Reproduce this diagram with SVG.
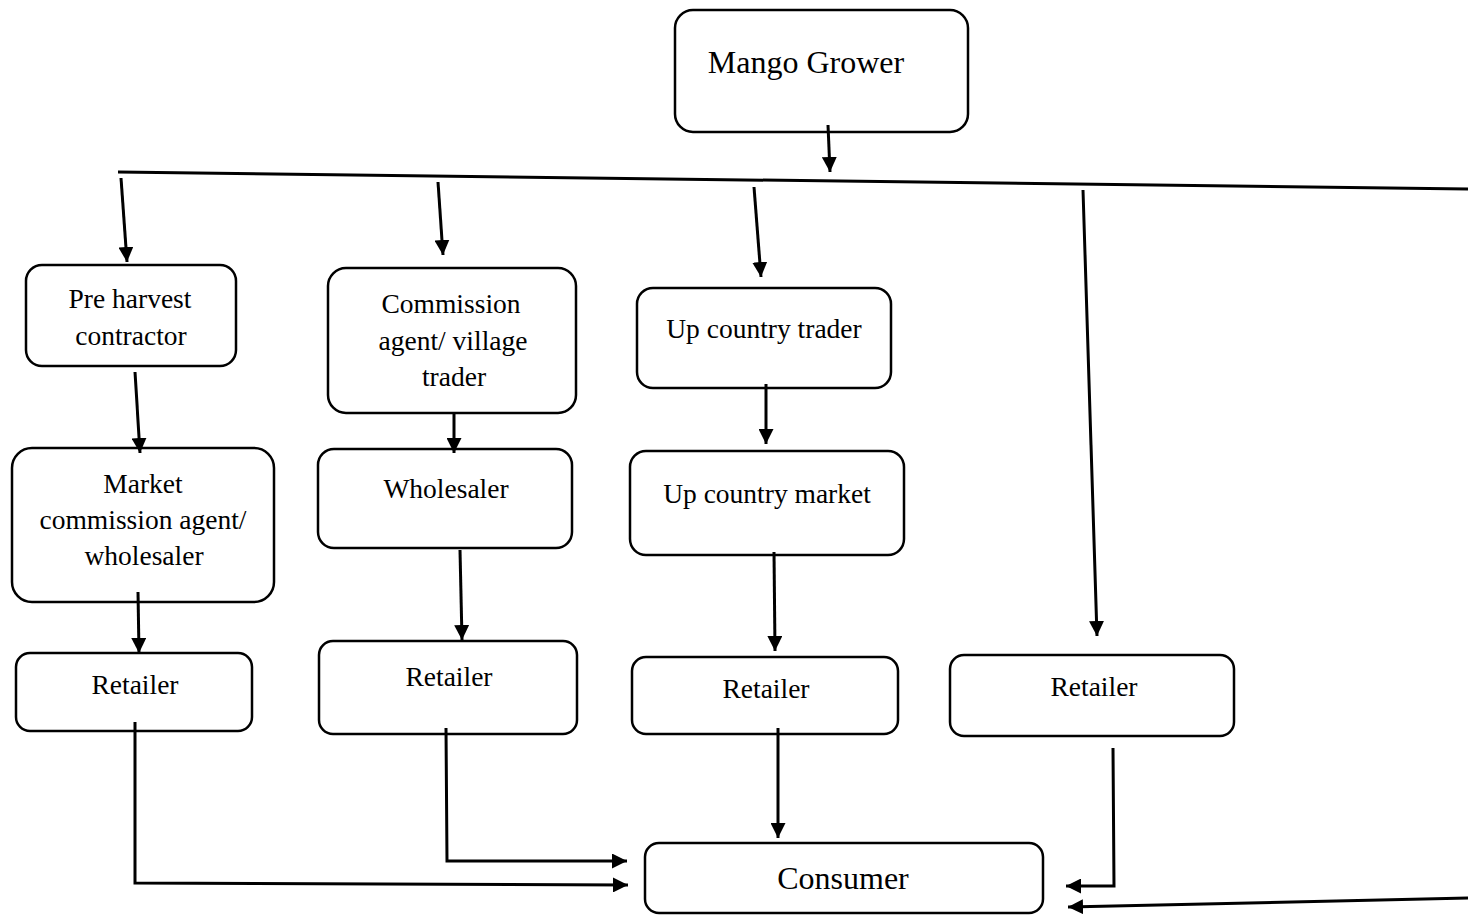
<svg xmlns="http://www.w3.org/2000/svg" width="1468" height="915" viewBox="0 0 1468 915">
<style>
.box{fill:#fff;stroke:#000;stroke-width:2.5}
.t{font-family:"Liberation Serif","Times New Roman",serif;font-size:27.5px;fill:#000;text-anchor:middle}
.big{font-size:32px}
.c{fill:none;stroke:#000;stroke-width:3}
</style>
<defs>
<marker id="ah" viewBox="0 0 10 10" refX="10" refY="5" markerWidth="5" markerHeight="5" markerUnits="strokeWidth" orient="auto">
<path d="M0,0 L10,5 L0,10 z" fill="#000"/>
</marker>
</defs>
<rect width="1468" height="915" fill="#fff"/>
<g id="mango-grower"><rect class="box" x="675" y="10" width="293" height="122" rx="18"/><text class="t big" x="806" y="73">Mango Grower</text></g>
<g id="pre-harvest"><rect class="box" x="26" y="265" width="210" height="101" rx="16"/><text class="t" x="130" y="308">Pre harvest</text><text class="t" x="131" y="345">contractor</text></g>
<g id="commission-agent"><rect class="box" x="328" y="268" width="248" height="145" rx="18"/><text class="t" x="451" y="313">Commission</text><text class="t" x="453" y="350">agent/ village</text><text class="t" x="454" y="386">trader</text></g>
<g id="up-country-trader"><rect class="box" x="637" y="288" width="254" height="100" rx="16"/><text class="t" x="764" y="338">Up country trader</text></g>
<g id="market-commission"><rect class="box" x="12" y="448" width="262" height="154" rx="20"/><text class="t" x="143" y="493">Market</text><text class="t" x="143" y="529">commission agent/</text><text class="t" x="144" y="565">wholesaler</text></g>
<g id="wholesaler"><rect class="box" x="318" y="449" width="254" height="99" rx="16"/><text class="t" x="446" y="498">Wholesaler</text></g>
<g id="up-country-market"><rect class="box" x="630" y="451" width="274" height="104" rx="16"/><text class="t" x="767" y="503">Up country market</text></g>
<g id="retailer-1"><rect class="box" x="16" y="653" width="236" height="78" rx="14"/><text class="t" x="135" y="694">Retailer</text></g>
<g id="retailer-2"><rect class="box" x="319" y="641" width="258" height="93" rx="14"/><text class="t" x="449" y="686">Retailer</text></g>
<g id="retailer-3"><rect class="box" x="632" y="657" width="266" height="77" rx="14"/><text class="t" x="766" y="698">Retailer</text></g>
<g id="retailer-4"><rect class="box" x="950" y="655" width="284" height="81" rx="14"/><text class="t" x="1094" y="696">Retailer</text></g>
<g id="consumer"><rect class="box" x="645" y="843" width="398" height="70" rx="14"/><text class="t big" x="843" y="889">Consumer</text></g>
<g id="connectors">
<line class="c" x1="828" y1="125" x2="830" y2="172" marker-end="url(#ah)"/>
<line class="c" x1="118" y1="172" x2="1468" y2="189"/>
<line class="c" x1="121" y1="178" x2="127" y2="262" marker-end="url(#ah)"/>
<line class="c" x1="438" y1="182" x2="443" y2="255" marker-end="url(#ah)"/>
<line class="c" x1="754" y1="187" x2="761" y2="277" marker-end="url(#ah)"/>
<line class="c" x1="1083" y1="190" x2="1097" y2="636" marker-end="url(#ah)"/>
<line class="c" x1="135" y1="372" x2="140" y2="453" marker-end="url(#ah)"/>
<line class="c" x1="138" y1="592" x2="139" y2="653" marker-end="url(#ah)"/>
<line class="c" x1="454" y1="412" x2="454" y2="453" marker-end="url(#ah)"/>
<line class="c" x1="460" y1="550" x2="462" y2="640" marker-end="url(#ah)"/>
<line class="c" x1="766" y1="384" x2="766" y2="444" marker-end="url(#ah)"/>
<line class="c" x1="774" y1="552" x2="775" y2="651" marker-end="url(#ah)"/>
<line class="c" x1="778" y1="728" x2="778" y2="838" marker-end="url(#ah)"/>
<polyline class="c" points="135,722 135,883 628,885" marker-end="url(#ah)"/>
<polyline class="c" points="446,728 447,861 627,861" marker-end="url(#ah)"/>
<polyline class="c" points="1113,748 1114,886 1066,886" marker-end="url(#ah)"/>
<line class="c" x1="1468" y1="898" x2="1068" y2="907" marker-end="url(#ah)"/>
</g>
</svg>
